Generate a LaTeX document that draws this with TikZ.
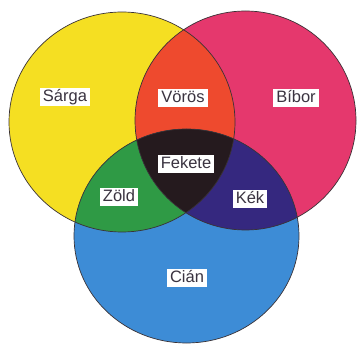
\documentclass[tikz,border=0pt]{standalone}
\usepackage{fontspec}
\setsansfont{Liberation Sans}
\definecolor{ink}{HTML}{3A3340}
\definecolor{rim}{HTML}{3A3236}
\definecolor{sarga}{HTML}{F5DF22}
\definecolor{bibor}{HTML}{E5386D}
\definecolor{cian}{HTML}{3D8CD6}
\definecolor{voros}{HTML}{EE4A2E}
\definecolor{zold}{HTML}{2F9A45}
\definecolor{kek}{HTML}{35287F}
\definecolor{fekete}{HTML}{251A1E}
\tikzset{
  lbl/.style={fill=white,inner xsep=3pt,inner ysep=1.5pt,text height=12.5pt,text depth=3pt,font=\sffamily\fontsize{16.5}{17}\selectfont,text=ink},
  edge/.style={draw=rim,line width=.7pt},
}

\begin{document}
\begin{tikzpicture}[x=1pt,y=-1pt]
  \useasboundingbox[fill=white] (0,0) rectangle (358,344);
  % base discs
  \fill[sarga] (122,122) ellipse[x radius=113pt,y radius=110pt];
  \fill[bibor] (245.5,120.5) ellipse[x radius=110.5pt,y radius=109.5pt];
  \fill[cian] (186.5,236) ellipse[x radius=112.5pt,y radius=107pt];
  % pairwise overlaps
  \begin{scope}
    \clip (122,122) ellipse[x radius=113pt,y radius=110pt];
    \fill[voros] (245.5,120.5) ellipse[x radius=110.5pt,y radius=109.5pt];
    \fill[zold] (186.5,236) ellipse[x radius=112.5pt,y radius=107pt];
  \end{scope}
  \begin{scope}
    \clip (245.5,120.5) ellipse[x radius=110.5pt,y radius=109.5pt];
    \fill[kek] (186.5,236) ellipse[x radius=112.5pt,y radius=107pt];
    % all three
    \clip (122,122) ellipse[x radius=113pt,y radius=110pt];
    \fill[fekete] (186.5,236) ellipse[x radius=112.5pt,y radius=107pt];
  \end{scope}
  % outlines
  \draw[edge] (122,122) ellipse[x radius=113pt,y radius=110pt];
  \draw[edge] (245.5,120.5) ellipse[x radius=110.5pt,y radius=109.5pt];
  \draw[edge] (186.5,236) ellipse[x radius=112.5pt,y radius=107pt];
  % labels
  \node[lbl] (sarga) at (65,97) {Sárga};
  \node[lbl] (voros) at (183,98) {Vörös};
  \node[lbl] (bibor) at (296,98) {Bíbor};
  \node[lbl] (fekete) at (186,164) {Fekete};
  \node[lbl] (zold) at (119,197) {Zöld};
  \node[lbl] (kek) at (250,199) {Kék};
  \node[lbl] (cian) at (187,278) {Cián};
\end{tikzpicture}
\end{document}
